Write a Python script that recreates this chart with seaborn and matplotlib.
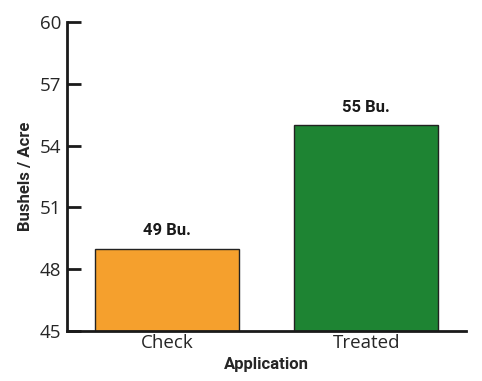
import matplotlib
matplotlib.use("Agg")
import matplotlib.pyplot as plt
import pandas as pd
import seaborn as sns

# chart values
applications = ["Check", "Treated"]
yields = [49, 55]
bar_labels = ["49 Bu.", "55 Bu."]
bar_colors = ["#F5A02D", "#1E8433"]
y_ticks = [45, 48, 51, 54, 57, 60]

df = pd.DataFrame({"Application": applications, "Yield": yields})

sns.set_style("ticks")
plt.rcParams["font.family"] = ["Open Sans", "DejaVu Sans"]

fig = plt.figure(figsize=(4.82, 3.81), dpi=100)
ax = fig.add_axes([0.139, 0.131, 0.828, 0.811])

sns.barplot(
    data=df, x="Application", y="Yield", hue="Application",
    palette=bar_colors, legend=False, width=0.72, saturation=1,
    edgecolor="#222222", linewidth=1.0, ax=ax,
)

ax.set_ylim(45, 60)
ax.set_xlim(-0.5, 1.5)
ax.set_yticks(y_ticks)
ax.set_yticklabels([str(t) for t in y_ticks], fontsize=13.5)
ax.tick_params(axis="y", direction="in", length=10, width=2, color="#1a1a1a", pad=4)
ax.tick_params(axis="x", length=0, labelsize=13.5, pad=2)

for i, (val, lab) in enumerate(zip(yields, bar_labels)):
    ax.text(i, val + 0.5, lab, ha="center", va="bottom", fontsize=12,
            fontweight="bold", family="Roboto", color="#1a1a1a")

ax.set_xlabel("Application", fontsize=12, fontweight="bold", family="Roboto", labelpad=4)
ax.set_ylabel("Bushels / Acre", fontsize=12, fontweight="bold", family="Roboto", labelpad=5)

sns.despine(ax=ax)
for side in ["left", "bottom"]:
    ax.spines[side].set_linewidth(2)
    ax.spines[side].set_color("#1a1a1a")

fig.savefig("out.png", dpi=100)
